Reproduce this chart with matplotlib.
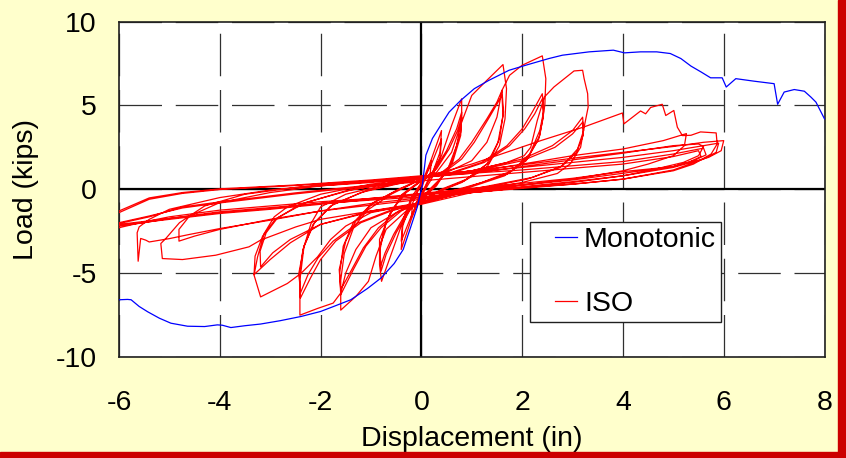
import numpy as np
import matplotlib
matplotlib.use("Agg")
import matplotlib.pyplot as plt
from matplotlib.patches import Rectangle
from matplotlib.lines import Line2D
from matplotlib.legend_handler import HandlerLine2D

plt.rcParams['font.family'] = ['Liberation Sans', 'DejaVu Sans']
plt.rcParams['axes.unicode_minus'] = False

# monotonic test (in, kips)
mono_x = [-5.99, -5.83, -5.76, -5.6, -5.43, -5.2, -4.97, -4.64, -4.3, -4.05, -3.95, -3.78,
          -3.5, -3.19, -2.8, -2.39, -2.0, -1.74, -1.4, -1.07, -0.8, -0.54, -0.36, -0.21,
          -0.08, 0.0, 0.02, 0.09, 0.22, 0.385, 0.55, 0.78, 1.05, 1.34, 1.74, 2.07, 2.53,
          2.8, 3.33, 3.81, 4.03, 4.35, 4.67, 4.94, 5.15, 5.35, 5.55, 5.74, 5.97, 6.05,
          6.24, 6.6, 7.0, 7.07, 7.2, 7.4, 7.6, 7.73, 7.83, 8.0]
mono_y = [-6.6, -6.58, -6.6, -7.0, -7.32, -7.7, -8.0, -8.18, -8.2, -8.1, -8.12, -8.26,
          -8.15, -8.05, -7.85, -7.6, -7.3, -7.0, -6.6, -5.93, -5.3, -4.44, -3.6, -2.25,
          -1.06, 0.0, 0.24, 2.03, 3.03, 3.82, 4.6, 5.3, 6.0, 6.5, 7.1, 7.4, 7.8,
          8.0, 8.2, 8.3, 8.14, 8.2, 8.2, 8.1, 7.8, 7.35, 7.0, 6.65, 6.65, 6.1,
          6.6, 6.45, 6.3, 5.07, 5.8, 5.95, 5.85, 5.5, 5.2, 4.2]

# ISO cyclic test, one list per cycle (in, kips)
cyc01 = [(0.0, 0.0), (0.1, 0.9), (0.2, 1.7), (0.17, 0.8), (0.05, 0.0), (-0.05, -0.5), (-0.12, -1.0),
         (-0.2, -1.7), (-0.17, -0.8), (-0.05, 0.0), (0.0, 0.3)]
cyc02 = [(0.0, 0.3), (0.2, 1.8), (0.4, 3.5), (0.37, 2.2), (0.2, 0.8), (0.0, -0.3), (-0.2, -1.8),
         (-0.4, -3.6), (-0.37, -2.2), (-0.2, -0.7), (0.0, 0.3)]
cyc03 = [(0.0, 0.3), (0.2, 1.5), (0.4, 3.0), (0.37, 1.9), (0.2, 0.6), (0.0, -0.4), (-0.2, -1.6),
         (-0.4, -3.1), (-0.37, -1.9), (-0.2, -0.5), (0.0, 0.4)]
cyc04 = [(0.0, 0.4), (0.2, 0.9), (0.4, 2.0), (0.6, 3.8), (0.8, 5.4), (0.8, 4.2), (0.7, 2.6), (0.5, 1.0),
         (0.2, 0.1), (0.0, -0.5), (-0.2, -1.1), (-0.4, -2.2), (-0.6, -3.9), (-0.79, -5.5), (-0.83, -4.5),
         (-0.83, -3.0), (-0.6, -1.3), (-0.3, -0.2), (0.0, 0.5)]
cyc05 = [(0.0, 0.5), (0.25, 1.1), (0.5, 2.3), (0.7, 3.6), (0.8, 4.6), (0.78, 3.4), (0.6, 1.6), (0.3, 0.2),
         (0.0, -0.6), (-0.25, -1.3), (-0.5, -2.6), (-0.7, -3.9), (-0.8, -4.9), (-0.82, -3.6), (-0.7, -1.9),
         (-0.4, -0.4), (0.0, 0.5)]
cyc06 = [(0.0, 0.5), (0.3, 1.2), (0.55, 2.4), (0.72, 3.5), (0.8, 4.3), (0.78, 3.2), (0.62, 1.6), (0.3, 0.3),
         (0.0, -0.6), (-0.3, -1.4), (-0.55, -2.7), (-0.72, -3.8), (-0.81, -4.6), (-0.82, -3.4), (-0.68, -1.8),
         (-0.38, -0.3), (0.0, 0.55)]
cyc07 = [(0.0, 0.55), (0.3, 1.0), (0.6, 2.2), (0.8, 4.0), (1.0, 5.6), (1.3, 6.5), (1.62, 7.44), (1.69, 6.0),
         (1.66, 4.2), (1.55, 2.6), (1.3, 1.3), (0.8, 0.4), (0.3, -0.2), (0.0, -0.7), (-0.3, -1.3), (-0.7, -2.4),
         (-0.9, -4.0), (-1.05, -5.5), (-1.3, -6.4), (-1.6, -7.22), (-1.6, -5.43), (-1.53, -3.84),
         (-1.34, -2.25), (-1.07, -1.25), (-0.6, -0.3), (0.0, 0.6)]
cyc08 = [(0.0, 0.6), (0.4, 1.0), (0.75, 1.8), (1.0, 2.8), (1.3, 4.2), (1.5, 5.2), (1.6, 5.9), (1.63, 4.6),
         (1.55, 3.0), (1.35, 1.6), (0.9, 0.6), (0.4, 0.0), (0.0, -0.7), (-0.4, -1.3), (-0.8, -2.3), (-1.1, -3.4),
         (-1.35, -4.8), (-1.6, -6.3), (-1.62, -5.0), (-1.55, -3.4), (-1.35, -2.0), (-1.0, -0.9), (-0.5, -0.1),
         (0.0, 0.6)]
cyc09 = [(0.0, 0.6), (0.45, 1.0), (0.8, 1.8), (1.05, 2.8), (1.35, 4.3), (1.6, 5.6), (1.62, 4.4), (1.52, 2.8),
         (1.3, 1.5), (0.85, 0.5), (0.4, -0.05), (0.0, -0.7), (-0.45, -1.3), (-0.85, -2.3), (-1.15, -3.5),
         (-1.4, -4.9), (-1.6, -6.0), (-1.63, -4.8), (-1.5, -3.1), (-1.3, -1.9), (-0.95, -0.8), (-0.45, 0.0),
         (0.0, 0.6)]
cyc10 = [(0.0, 0.6), (0.5, 1.0), (1.0, 1.7), (1.3, 2.8), (1.5, 4.3), (1.6, 5.9), (1.75, 6.8), (2.0, 7.4),
         (2.4, 7.96), (2.47, 6.6), (2.45, 5.0), (2.35, 3.5), (2.15, 2.1), (1.8, 1.1), (1.2, 0.4), (0.5, -0.2),
         (0.0, -0.75), (-0.5, -1.4), (-1.0, -2.3), (-1.3, -3.6), (-1.5, -5.0), (-1.6, -6.2), (-1.75, -6.8),
         (-2.06, -7.12), (-2.41, -7.52), (-2.41, -5.43), (-2.33, -3.44), (-2.19, -2.05), (-2.0, -1.06),
         (-1.5, -0.3), (-0.8, 0.2), (0.0, 0.65)]
cyc11 = [(0.0, 0.65), (0.6, 1.0), (1.2, 1.6), (1.7, 2.6), (2.0, 3.6), (2.2, 4.6), (2.4, 5.7), (2.43, 4.6),
         (2.35, 3.2), (2.1, 1.8), (1.7, 0.9), (1.0, 0.2), (0.0, -0.8), (-0.6, -1.3), (-1.2, -2.0), (-1.7, -3.1),
         (-2.0, -4.2), (-2.2, -5.3), (-2.4, -6.5), (-2.42, -5.2), (-2.35, -3.6), (-2.15, -2.1), (-1.8, -1.0),
         (-1.2, -0.2), (0.0, 0.65)]
cyc12 = [(0.0, 0.65), (0.65, 1.0), (1.25, 1.6), (1.75, 2.6), (2.05, 3.6), (2.25, 4.5), (2.4, 5.4), (2.42, 4.3),
         (2.33, 3.0), (2.08, 1.7), (1.65, 0.8), (1.0, 0.15), (0.0, -0.8), (-0.65, -1.3), (-1.25, -2.0),
         (-1.75, -3.1), (-2.05, -4.1), (-2.25, -5.1), (-2.4, -6.2), (-2.43, -5.0), (-2.33, -3.4), (-2.12, -2.0),
         (-1.75, -0.9), (-1.1, -0.1), (0.0, 0.7)]
cyc13 = [(0.0, 0.7), (1.0, 1.1), (1.7, 1.6), (2.04, 2.0), (2.17, 2.5), (2.3, 4.1), (2.44, 5.5), (2.63, 6.1),
         (3.03, 7.06), (3.2, 7.1), (3.23, 6.6), (3.3, 5.7), (3.31, 4.9), (3.23, 3.7), (3.16, 2.5), (2.96, 1.53),
         (2.7, 0.94), (2.0, 0.4), (1.0, -0.1), (0.0, -0.8), (-1.0, -1.4), (-1.5, -2.2), (-1.8, -3.0),
         (-2.06, -4.04), (-2.39, -5.03), (-2.66, -5.63), (-3.19, -6.43), (-3.32, -5.13), (-3.25, -4.04),
         (-3.12, -2.65), (-2.92, -1.65), (-2.66, -1.06), (-2.0, -0.3), (-1.0, 0.3), (0.0, 0.7)]
cyc14 = [(0.0, 0.7), (1.0, 1.1), (2.0, 1.8), (2.6, 2.6), (3.0, 3.5), (3.2, 4.3), (3.22, 3.5), (3.1, 2.4),
         (2.8, 1.4), (2.2, 0.7), (1.0, 0.0), (0.0, -0.8), (-1.0, -1.3), (-2.0, -2.1), (-2.6, -3.2), (-3.0, -4.2),
         (-3.32, -5.1), (-3.3, -4.0), (-3.15, -2.8), (-2.9, -1.8), (-2.4, -0.9), (-1.5, -0.1), (0.0, 0.7)]
cyc15 = [(0.0, 0.7), (1.0, 1.05), (2.0, 1.7), (2.65, 2.5), (3.0, 3.3), (3.2, 4.0), (3.21, 3.2), (3.08, 2.2),
         (2.75, 1.3), (2.1, 0.6), (1.0, -0.05), (0.0, -0.85), (-1.0, -1.35), (-2.0, -2.1), (-2.6, -3.0),
         (-2.95, -3.8), (-3.19, -4.64), (-3.2, -3.7), (-3.08, -2.6), (-2.85, -1.7), (-2.3, -0.8), (-1.4, -0.05),
         (0.0, 0.7)]
cyc16 = [(0.0, 0.7), (1.0, 1.5), (2.37, 2.9), (3.23, 3.72), (3.99, 4.55), (4.02, 3.9), (4.35, 4.67),
         (4.45, 4.5), (4.55, 4.88), (4.78, 5.07), (4.85, 4.4), (5.01, 4.7), (5.08, 3.7), (5.18, 3.2),
         (5.35, 3.22), (5.54, 3.42), (5.85, 3.36), (5.87, 2.7), (5.75, 2.1), (5.4, 1.5), (5.0, 1.1), (4.0, 0.6),
         (3.0, 0.3), (2.0, 0.1), (1.0, -0.2), (0.0, -0.9), (-1.0, -1.3), (-2.0, -1.8), (-2.49, -2.25),
         (-3.19, -3.04), (-3.42, -3.44), (-4.08, -3.94), (-4.74, -4.2), (-5.14, -4.14), (-5.17, -3.24),
         (-5.07, -2.94), (-4.8, -2.0), (-4.3, -1.0), (-3.5, -0.3), (-2.5, 0.1), (-1.0, 0.4), (0.0, 0.7)]
cyc17 = [(0.0, 0.7), (1.0, 1.0), (2.0, 1.5), (3.0, 2.0), (4.0, 2.4), (4.8, 2.9), (5.26, 3.32), (5.22, 2.6),
         (5.0, 2.0), (4.5, 1.5), (4.0, 1.1), (3.0, 0.6), (2.0, 0.25), (1.0, -0.1), (0.0, -0.6), (-1.0, -0.95),
         (-2.0, -1.3), (-3.0, -1.8), (-4.0, -2.4), (-4.5, -2.8), (-4.81, -3.1), (-4.81, -2.4), (-4.6, -1.6),
         (-4.0, -0.8), (-3.0, -0.2), (-2.0, 0.2), (-1.0, 0.45), (0.0, 0.7)]
cyc18 = [(0.0, 0.7), (1.0, 0.95), (2.0, 1.35), (3.0, 1.75), (4.0, 2.15), (5.0, 2.6), (5.5, 2.7), (5.6, 2.55),
         (5.5, 2.0), (5.2, 1.6), (4.5, 1.1), (4.0, 0.8), (3.0, 0.4), (2.0, 0.1), (1.0, -0.2), (0.0, -0.5),
         (-1.0, -0.85), (-2.0, -1.3), (-3.0, -1.85), (-4.0, -2.35), (-4.6, -2.7), (-5.0, -2.95), (-5.4, -3.15),
         (-5.47, -3.04), (-5.57, -2.94), (-5.62, -4.3), (-5.64, -2.6), (-5.6, -2.25), (-5.4, -1.8), (-5.0, -1.2),
         (-4.0, -0.5), (-3.0, -0.05), (-2.0, 0.25), (-1.0, 0.5), (0.0, 0.75)]
cyc19 = [(0.0, 0.75), (1.0, 1.1), (2.0, 1.45), (3.0, 1.85), (4.0, 2.2), (5.0, 2.55), (5.6, 2.8), (6.0, 2.9),
         (5.95, 2.3), (5.7, 1.9), (5.0, 1.3), (4.0, 0.8), (3.0, 0.45), (2.0, 0.15), (1.0, -0.1), (0.0, -0.35),
         (-1.0, -0.55), (-2.0, -0.75), (-3.0, -1.0), (-4.0, -1.25), (-5.0, -1.65), (-5.5, -1.95), (-6.0, -2.3),
         (-6.2, -2.45), (-6.2, -1.7), (-6.0, -1.4), (-5.4, -0.6), (-4.74, -0.25), (-4.0, -0.02), (-2.5, 0.22),
         (-1.0, 0.5), (0.0, 0.75)]
cyc20 = [(0.0, 0.75), (1.0, 1.0), (2.0, 1.3), (3.0, 1.6), (4.0, 1.9), (5.0, 2.3), (5.5, 2.55), (5.9, 2.75),
         (5.85, 2.2), (5.6, 1.8), (5.0, 1.15), (4.0, 0.6), (3.0, 0.3), (2.0, 0.05), (1.0, -0.2), (0.0, -0.45),
         (-1.0, -0.65), (-2.0, -0.85), (-3.0, -1.1), (-4.0, -1.35), (-5.0, -1.75), (-5.5, -2.0), (-6.0, -2.2),
         (-6.2, -2.3), (-6.2, -1.6), (-6.0, -1.3), (-5.4, -0.52), (-4.74, -0.2), (-4.0, 0.02), (-2.5, 0.25),
         (-1.0, 0.55), (0.0, 0.8)]
cyc21 = [(0.0, 0.8), (1.0, 0.95), (2.0, 1.15), (3.0, 1.4), (4.0, 1.65), (5.0, 2.1), (5.6, 2.45), (5.65, 2.05),
         (5.4, 1.7), (5.0, 1.35), (4.0, 0.95), (3.0, 0.55), (2.0, 0.25), (1.0, 0.0), (0.0, -0.3), (-1.0, -0.6),
         (-2.0, -0.9), (-3.0, -1.2), (-4.0, -1.45), (-5.0, -1.8), (-6.0, -2.15), (-6.2, -2.3), (-6.2, -2.15),
         (-6.0, -2.05), (-5.4, -1.65), (-4.74, -1.06), (-4.0, -0.76), (-2.5, -0.22), (-1.0, 0.25), (0.0, 0.5)]
cyc22 = [(0.0, 0.5), (1.0, 0.75), (2.0, 1.0), (3.0, 1.25), (4.0, 1.5), (5.0, 1.95), (5.5, 2.3), (5.55, 1.95),
         (5.3, 1.6), (5.0, 1.35), (4.0, 1.05), (3.0, 0.65), (2.0, 0.35), (1.0, 0.05), (0.0, -0.25),
         (-1.0, -0.55), (-2.0, -0.85), (-3.0, -1.15), (-4.0, -1.4), (-5.0, -1.75), (-6.0, -2.1), (-6.2, -2.2),
         (-6.2, -2.1), (-6.0, -2.0), (-5.4, -1.6), (-4.74, -1.12), (-4.0, -0.82), (-2.5, -0.28), (-1.0, 0.2),
         (0.0, 0.45)]

iso_cycles = [cyc01, cyc02, cyc03, cyc04, cyc05, cyc06, cyc07, cyc08, cyc09, cyc10, cyc11,
              cyc12, cyc13, cyc14, cyc15, cyc16, cyc17, cyc18, cyc19, cyc20, cyc21, cyc22]
iso_pts = np.array([p for c in iso_cycles for p in c])

x_ticks = [-6, -4, -2, 0, 2, 4, 6, 8]
y_ticks = [-10, -5, 0, 5, 10]


class ShortLine(HandlerLine2D):
    # legend line drawn on the right part of the handle box only
    def create_artists(self, legend, orig_handle, xdescent, ydescent, width, height, fontsize, trans):
        arts = super().create_artists(legend, orig_handle, xdescent, ydescent, width, height, fontsize, trans)
        for a in arts:
            xd = np.asarray(a.get_xdata(), float)
            if len(xd) >= 2:
                a.set_xdata(np.linspace(xd[0] + 0.46 * (xd[-1] - xd[0]), xd[-1], len(xd)))
        return arts


bg = '#FFFFCC'
fig = plt.figure(figsize=(8.46, 4.58), dpi=100, facecolor=bg)
ax = fig.add_axes([119 / 846, 101.3 / 458, 705.5 / 846, 335 / 458])
ax.set_facecolor('white')

ax.plot(iso_pts[:, 0], iso_pts[:, 1], color='#FF0000', lw=0.9, zorder=3)
ax.plot(mono_x, mono_y, color='#0000FF', lw=0.9, zorder=4)

ax.set_xlim(-6, 8)
ax.set_ylim(-10, 10)
ax.set_xticks(x_ticks)
ax.set_yticks(y_ticks)
ax.grid(True, color='#303030', lw=0.9, linestyle=(0, (34, 11)), zorder=1)
ax.axhline(0, color='black', lw=1.6, zorder=2)
ax.axvline(0, color='black', lw=1.6, zorder=2)
for s in ax.spines.values():
    s.set_color('#202020')
    s.set_linewidth(1.2)

ax.tick_params(length=0, labelsize=20.5, colors='black')
ax.tick_params(axis='x', pad=24)
ax.tick_params(axis='y', pad=16)
ax.set_xlabel('Displacement (in)', fontsize=20.5, labelpad=7)
ax.set_ylabel('Load (kips)', fontsize=20.5, labelpad=12)

h_mono = Line2D([], [], color='#0000FF', lw=0.9)
h_iso = Line2D([], [], color='#FF0000', lw=0.9)
leg = ax.legend([h_mono, h_iso], ['Monotonic', 'ISO'], loc='upper left',
                bbox_to_anchor=(530 / 846, 1 - 222 / 458), bbox_transform=fig.transFigure,
                fontsize=20.5, frameon=True, fancybox=False, framealpha=1, edgecolor='#202020',
                borderpad=0.18, labelspacing=1.32, handlelength=1.48, handletextpad=0.24,
                borderaxespad=0, handler_map={Line2D: ShortLine()})
leg.get_frame().set_linewidth(1.0)
leg.set_zorder(6)

# red page border at right and bottom
fig.add_artist(Rectangle((838 / 846, 0), 8 / 846, 1, transform=fig.transFigure, color='#CC0000', zorder=10))
fig.add_artist(Rectangle((0, 0), 1, 6 / 458, transform=fig.transFigure, color='#CC0000', zorder=10))

fig.savefig('out.png', dpi=100, facecolor=bg)
